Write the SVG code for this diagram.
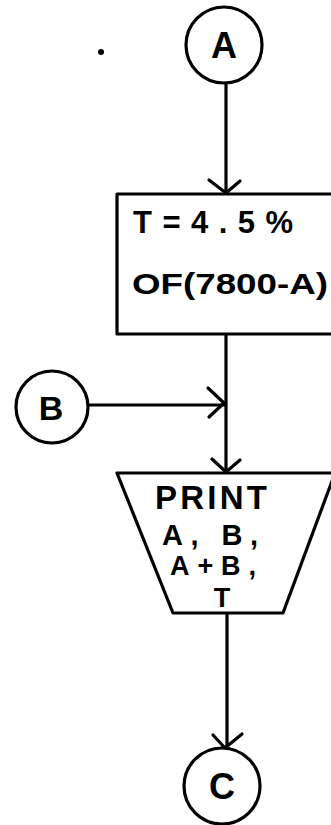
<svg xmlns="http://www.w3.org/2000/svg" width="331" height="825" viewBox="0 0 331 825">
<style>
.sh{fill:#fff;stroke:#000;stroke-width:3.2;stroke-linejoin:round}
.ln{fill:none;stroke:#000;stroke-width:3.2;stroke-linecap:round;stroke-linejoin:round}
.t{font-family:"Liberation Sans",Arial,sans-serif;font-weight:bold;fill:#000}
</style>
<rect width="331" height="825" fill="#fff"/>
<circle cx="101" cy="52" r="3" fill="#000"/>
<g id="connectors">
<path class="ln" d="M226 84 V193"/>
<path class="ln" d="M209 180 L226 193 L240 181"/>
<path class="ln" d="M226 334 V472"/>
<path class="ln" d="M89 405 H225"/>
<path class="ln" d="M208 388 L224 403 L209 417"/>
<path class="ln" d="M212 459 L226 472 L240 460"/>
<path class="ln" d="M227 614 V747"/>
<path class="ln" d="M213 735 L225 748 L242 734"/>
</g>
<g id="A">
<circle class="sh" cx="224" cy="45" r="38"/>
<text class="t" x="224" y="58" font-size="36" text-anchor="middle">A</text>
</g>
<g id="calc">
<rect class="sh" x="117" y="194" width="222" height="140"/>
<text class="t" x="133" y="233" font-size="31" textLength="160" lengthAdjust="spacing">T=4.5%</text>
<text class="t" x="132" y="294" font-size="30" textLength="196" lengthAdjust="spacingAndGlyphs">OF(7800-A)</text>
</g>
<g id="B">
<circle class="sh" cx="52" cy="407" r="36"/>
<text class="t" x="51" y="420" font-size="34" text-anchor="middle">B</text>
</g>
<g id="print">
<path class="sh" d="M117 473 L335 473 L283 613 L173 613 Z"/>
<text class="t" x="155" y="509" font-size="33" textLength="112" lengthAdjust="spacing">PRINT</text>
<text class="t" x="162" y="545" font-size="29" textLength="96" lengthAdjust="spacing">A, B,</text>
<text class="t" x="170" y="575" font-size="27" textLength="86" lengthAdjust="spacing">A+B,</text>
<text class="t" x="222" y="607" font-size="27" text-anchor="middle">T</text>
</g>
<g id="C">
<circle class="sh" cx="222" cy="786" r="38"/>
<text class="t" x="222" y="799" font-size="36" text-anchor="middle">C</text>
</g>
</svg>
